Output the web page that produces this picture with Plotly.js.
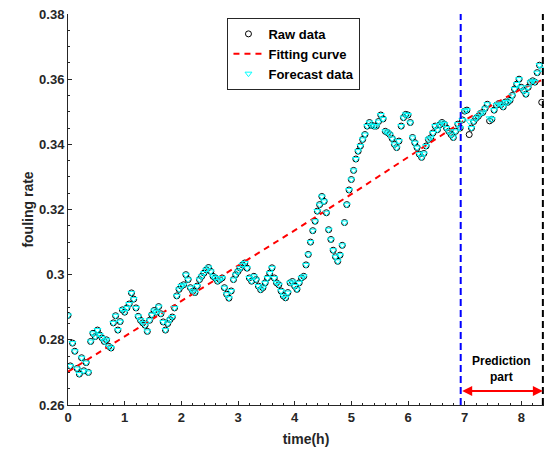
<!DOCTYPE html>
<html>
<head>
<meta charset="utf-8">
<script src="https://cdn.plot.ly/plotly-3.0.1.min.js"></script>
<style>html,body{margin:0;padding:0;background:#fff;}#chart{width:552px;height:455px;}</style>
</head>
<body>
<div id="chart"></div>
<script>
// ---- data ----
const SAMPLE_STEP = 0.04; // hours between samples
const rawData = [
  0.2875,0.2720,0.2790,0.2765,0.2712,0.2695,0.2745,0.2705,0.2730,0.2700,
  0.2795,0.2820,0.2810,0.2830,0.2815,0.2806,0.2795,0.2800,0.2780,0.2775,
  0.2852,0.2874,0.2830,0.2856,0.2892,
  0.2885,0.2898,0.2910,0.2944,0.2925,0.2898,0.2872,0.2860,0.2852,0.2845,
  0.2826,0.2860,0.2877,0.2890,0.2885,0.2902,0.2880,0.2855,0.2830,0.2850,
  0.2862,0.2870,0.2898,0.2935,0.2955,
  0.2965,0.2969,0.3000,0.2985,0.2960,0.2949,0.2945,0.2965,0.2985,0.2995,
  0.3005,0.3015,0.3022,0.3010,0.2995,0.2990,0.2980,0.2985,0.2990,0.2960,
  0.2940,0.2928,0.2950,0.2985,0.3000,
  0.3010,0.3020,0.3030,0.3036,0.3020,0.2990,0.2980,0.2995,0.2985,0.2965,
  0.2954,0.2960,0.2975,0.2990,0.3005,0.3021,0.2990,0.2975,0.2969,0.2950,
  0.2935,0.2929,0.2945,0.2975,0.2979,
  0.2965,0.2955,0.2975,0.2990,0.2995,0.3030,0.3062,0.3100,0.3135,0.3164,
  0.3195,0.3215,0.3240,0.3225,0.3190,0.3138,0.3108,0.3075,0.3055,0.3041,
  0.3060,0.3090,0.3160,0.3215,0.3260,
  0.3292,0.3320,0.3355,0.3379,0.3395,0.3415,0.3430,0.3456,0.3467,0.3458,
  0.3456,0.3456,0.3470,0.3490,0.3478,0.3440,0.3436,0.3430,0.3418,0.3400,
  0.3390,0.3410,0.3456,0.3482,0.3492,
  0.3490,0.3467,0.3421,0.3405,0.3390,0.3370,0.3360,0.3372,0.3395,0.3415,
  0.3420,0.3435,0.3456,0.3445,0.3460,0.3467,0.3462,0.3450,0.3440,0.3430,
  0.3421,0.3440,0.3462,0.3450,0.3475,
  0.3502,0.3505,0.3430,0.3450,0.3470,0.3480,0.3486,0.3495,0.3498,0.3510,
  0.3523,0.3472,0.3477,0.3505,0.3520,0.3525,0.3522,0.3515,0.3530,0.3529,
  0.3535,0.3550,0.3570,0.3585,0.3600,0.3575,0.3565,0.3554,0.3575,0.3590,
  0.3595,0.3591,0.3620,0.3643,0.3529
];
const forecastData = [
  0.2875,0.2720,0.2790,0.2765,0.2712,0.2695,0.2745,0.2705,0.2730,0.2700,
  0.2795,0.2820,0.2810,0.2830,0.2815,0.2806,0.2795,0.2800,0.2780,0.2775,
  0.2852,0.2874,0.2830,0.2856,0.2892,
  0.2885,0.2898,0.2910,0.2944,0.2925,0.2898,0.2872,0.2860,0.2852,0.2845,
  0.2826,0.2860,0.2877,0.2890,0.2885,0.2902,0.2880,0.2855,0.2830,0.2850,
  0.2862,0.2870,0.2898,0.2935,0.2955,
  0.2965,0.2969,0.3000,0.2985,0.2960,0.2949,0.2945,0.2965,0.2985,0.2995,
  0.3005,0.3015,0.3022,0.3010,0.2995,0.2990,0.2980,0.2985,0.2990,0.2960,
  0.2940,0.2928,0.2950,0.2985,0.3000,
  0.3010,0.3020,0.3030,0.3036,0.3020,0.2990,0.2980,0.2995,0.2985,0.2965,
  0.2954,0.2960,0.2975,0.2990,0.3005,0.3021,0.2990,0.2975,0.2969,0.2950,
  0.2935,0.2929,0.2945,0.2975,0.2979,
  0.2965,0.2955,0.2975,0.2990,0.2995,0.3030,0.3062,0.3100,0.3135,0.3164,
  0.3195,0.3215,0.3240,0.3225,0.3190,0.3138,0.3108,0.3075,0.3055,0.3041,
  0.3060,0.3090,0.3160,0.3215,0.3260,
  0.3292,0.3320,0.3355,0.3379,0.3395,0.3415,0.3430,0.3456,0.3467,0.3458,
  0.3456,0.3456,0.3470,0.3490,0.3478,0.3440,0.3436,0.3430,0.3418,0.3400,
  0.3390,0.3410,0.3456,0.3482,0.3492,
  0.3490,0.3467,0.3421,0.3405,0.3390,0.3370,0.3360,0.3372,0.3395,0.3415,
  0.3420,0.3435,0.3456,0.3445,0.3460,0.3467,0.3462,0.3450,0.3440,0.3430,
  0.3421,0.3440,0.3462,0.3450,0.3475,
  0.3502,0.3505,0.3470,0.3450,0.3470,0.3480,0.3486,0.3495,0.3498,0.3510,
  0.3523,0.3480,0.3477,0.3505,0.3520,0.3525,0.3522,0.3515,0.3530,0.3529,
  0.3535,0.3550,0.3570,0.3585,0.3600,0.3575,0.3565,0.3554,0.3575,0.3590,
  0.3595,0.3591,0.3620,0.3643,0.3632
];
const fitTime  = [0, 1, 2, 3, 4, 5, 6, 7, 8, 8.4];
const fitValue = [0.2702, 0.2810, 0.2918, 0.3026, 0.3136, 0.3247, 0.3360, 0.3474, 0.3570, 0.3600];
const predictionStart = 6.93;
const predictionEnd = 8.38;
const xTickVals = [0,1,2,3,4,5,6,7,8];
const yTickVals = [0.26,0.28,0.30,0.32,0.34,0.36,0.38];
const yTickText = ['0.26','0.28','0.3','0.32','0.34','0.36','0.38'];
const yRange = [0.26, 0.38];
const xRange = [0, 8.4];
const arrowLevel = 0.2643;
const labelPos = {x: 7.65, y: 0.2711};

const time = rawData.map((_, i) => +(i * SAMPLE_STEP).toFixed(2));

const FONT = 'Arial, "Liberation Sans", Helvetica, sans-serif';
const INK = '#262626';

const traces = [
  {x: time, y: rawData, type: 'scatter', mode: 'markers', name: 'Raw data',
   marker: {symbol: 'circle-open', size: 6, color: '#000', line: {width: 1, color: '#000'}}},
  {x: fitTime, y: fitValue, type: 'scatter', mode: 'lines', name: 'Fitting curve',
   line: {color: '#ff0000', width: 2, dash: '6px,5px'}},
  {x: time, y: forecastData, type: 'scatter', mode: 'markers', name: 'Forecast data',
   marker: {symbol: 'triangle-down-open', size: 6, color: '#00ffff', line: {width: 1, color: '#00ffff'}}},
  {x: [predictionStart, predictionStart], y: yRange, type: 'scatter', mode: 'lines', showlegend: false,
   line: {color: '#0000ff', width: 2, dash: '7px,4px'}, hoverinfo: 'skip'},
  {x: [predictionEnd, predictionEnd], y: yRange, type: 'scatter', mode: 'lines', showlegend: false,
   line: {color: '#000000', width: 2, dash: '7px,4px'}, hoverinfo: 'skip'}
];

const layout = {
  width: 552, height: 455,
  margin: {l: 68, r: 8, t: 14, b: 50},
  paper_bgcolor: '#fff', plot_bgcolor: '#fff',
  font: {family: FONT, color: INK},
  showlegend: true,
  legend: {
    x: 0.335, y: 0.99, xanchor: 'left', yanchor: 'top',
    bgcolor: '#fff', bordercolor: INK, borderwidth: 1,
    font: {family: FONT, size: 13, color: '#000', weight: 'bold'},
    itemwidth: 30, tracegroupgap: 0
  },
  xaxis: {
    range: xRange, tickvals: xTickVals, showgrid: false, zeroline: false,
    showline: true, linecolor: INK, linewidth: 1, mirror: false,
    ticks: 'inside', ticklen: 4, tickcolor: INK,
    minor: {ticks: 'inside', dtick: 0.2, ticklen: 2, tickcolor: INK},
    tickfont: {family: FONT, size: 13, color: INK, weight: 'bold'},
    title: {text: 'time(h)', font: {family: FONT, size: 14, color: INK, weight: 'bold'}, standoff: 10}
  },
  yaxis: {
    range: yRange, tickvals: yTickVals, ticktext: yTickText, showgrid: false, zeroline: false,
    showline: true, linecolor: INK, linewidth: 1, mirror: false,
    ticks: 'inside', ticklen: 4, tickcolor: INK,
    minor: {ticks: 'inside', dtick: 0.005, ticklen: 2, tickcolor: INK},
    tickfont: {family: FONT, size: 13, color: INK, weight: 'bold'},
    title: {text: 'fouling rate', font: {family: FONT, size: 14, color: INK, weight: 'bold'}, standoff: 2}
  },
  annotations: [
    {x: predictionEnd, y: arrowLevel, ax: predictionStart, ay: arrowLevel,
     xref: 'x', yref: 'y', axref: 'x', ayref: 'y', text: '',
     showarrow: true, arrowhead: 2, arrowside: 'end+start', arrowsize: 1, arrowwidth: 2, arrowcolor: '#ff0000'},
    {x: labelPos.x, y: labelPos.y, xref: 'x', yref: 'y', showarrow: false,
     text: 'Prediction<br>part', align: 'center',
     font: {family: FONT, size: 12, color: '#000', weight: 'bold'}}
  ]
};

Plotly.newPlot('chart', traces, layout, {displayModeBar: false, staticPlot: true});
</script>
</body>
</html>
